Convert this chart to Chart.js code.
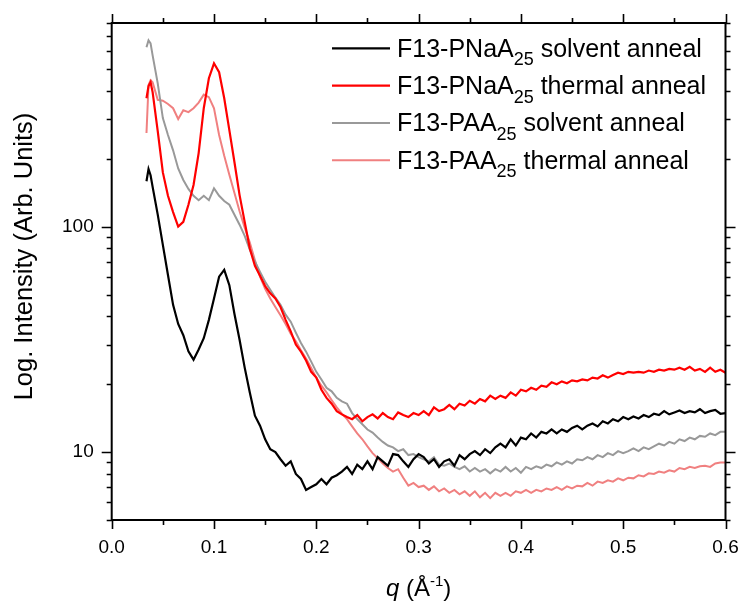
<!DOCTYPE html>
<html>
<head>
<meta charset="utf-8">
<script src="https://cdn.jsdelivr.net/npm/chart.js@4.4.1/dist/chart.umd.min.js"></script>
<style>
  html, body { margin: 0; padding: 0; background: #fff; }
  #wrap { width: 740px; height: 601px; }
</style>
</head>
<body>
<div id="wrap"><canvas id="saxs" width="740" height="601"></canvas></div>
<script>
// scattering vector q (1/Angstrom)
var q = [0.034, 0.036, 0.038, 0.040,
  0.045, 0.050, 0.055, 0.060, 0.065, 0.070, 0.075, 0.080, 0.085, 0.090,
  0.095, 0.100, 0.105, 0.110, 0.115, 0.120, 0.125, 0.130, 0.135, 0.140,
  0.145, 0.150, 0.155, 0.160, 0.165, 0.170, 0.175, 0.180, 0.185, 0.190,
  0.195, 0.200, 0.205, 0.210, 0.215, 0.220, 0.225, 0.230, 0.235, 0.240,
  0.245, 0.250, 0.255, 0.260, 0.265, 0.270, 0.275, 0.280, 0.285, 0.290,
  0.295, 0.300, 0.305, 0.310, 0.315, 0.320, 0.325, 0.330, 0.335, 0.340,
  0.345, 0.350, 0.355, 0.360, 0.365, 0.370, 0.375, 0.380, 0.385, 0.390,
  0.395, 0.400, 0.405, 0.410, 0.415, 0.420, 0.425, 0.430, 0.435, 0.440,
  0.445, 0.450, 0.455, 0.460, 0.465, 0.470, 0.475, 0.480, 0.485, 0.490,
  0.495, 0.500, 0.505, 0.510, 0.515, 0.520, 0.525, 0.530, 0.535, 0.540,
  0.545, 0.550, 0.555, 0.560, 0.565, 0.570, 0.575, 0.580, 0.585, 0.590,
  0.595, 0.600];

var pnaaSolvent = [159, 180, 169, 150,
  113, 83, 61, 45, 37, 33, 28, 25.7, 28.5, 32,
  38.6, 48, 60, 64.3, 55, 41, 31.5, 23.7, 18.4, 14.5,
  13.1, 11.4, 10.3, 10.0, 9.3, 8.7, 9.1, 8.0, 7.6, 6.8,
  7.0, 7.2, 7.6, 7.2, 7.7, 7.9, 8.2, 8.6, 8.0, 8.8,
  8.4, 9.1, 8.4, 9.5, 9.1, 8.7, 9.8, 9.7, 9.1, 8.6,
  9.3, 9.8, 9.5, 8.9, 9.3, 8.6, 9.1, 9.3, 8.7, 9.7,
  9.3, 9.8, 10.1, 9.7, 10.3, 9.9, 10.5, 10.9, 10.5, 11.4,
  10.7, 11.6, 11.4, 12.1, 11.6, 12.3, 12.1, 12.6, 12.1, 12.6,
  12.3, 12.8, 13.1, 12.6, 13.1, 13.4, 13.0, 13.7, 13.4, 14.0,
  13.7, 14.3, 14.0, 14.4, 14.1, 14.6, 14.3, 14.8, 14.6, 15.2,
  14.7, 15.0, 15.3, 14.9, 15.2, 15.0, 15.5, 14.9, 15.2, 15.4,
  14.8, 14.9];

var pnaaThermal = [371, 420, 437, 395,
  265, 174, 137, 116, 100, 105, 125, 153, 212, 335,
  455, 530, 484, 371, 268, 193, 138, 105, 80, 67,
  60.5, 54.5, 50.6, 48, 44, 38.6, 34.3, 30, 27.9, 25.5,
  22.7, 21.4, 18.9, 17.4, 16.4, 15.2, 14.7, 14.3, 14.0, 14.6,
  13.7, 14.3, 14.7, 14.1, 14.9, 14.3, 14.0, 15.0, 14.6, 14.3,
  14.9, 14.6, 15.2, 14.6, 15.8, 15.2, 15.5, 16.2, 15.5, 16.4,
  16.1, 16.9, 16.4, 17.2, 16.8, 17.8, 17.2, 17.8, 17.4, 18.4,
  17.8, 18.9, 18.6, 19.3, 18.9, 19.7, 19.5, 20.4, 20.0, 20.6,
  20.2, 20.8, 20.6, 21.0, 20.8, 21.4, 21.2, 21.9, 21.4, 22.0,
  22.5, 22.2, 22.7, 22.5, 22.7, 22.5, 23.0, 22.7, 23.2, 23.0,
  23.4, 23.2, 23.7, 23.2, 23.9, 23.0, 23.4, 22.7, 23.7, 22.7,
  23.2, 22.5];

var paaSolvent = [624, 670, 650, 575,
  432, 303, 255, 218, 181, 161, 147, 137, 131, 137,
  131, 148, 137, 130, 125, 113, 102, 91, 79, 70,
  63, 57, 52.5, 48.4, 45, 40.7, 37.9, 33.9, 30.5, 27.9,
  25.2, 22.7, 21.0, 19.3, 18.6, 17.4, 16.8, 16.4, 14.9, 14.0,
  13.3, 12.6, 12.2, 11.6, 11.1, 10.7, 10.5, 10.1, 10.3, 9.7,
  9.8, 9.5, 9.3, 9.1, 9.5, 8.8, 8.7, 8.9, 8.6, 8.4,
  8.65, 8.2, 8.5, 8.2, 8.4, 8.05, 8.4, 8.2, 8.6, 8.2,
  8.5, 8.1, 8.6, 8.4, 8.65, 8.5, 8.8, 8.65, 9.0, 8.8,
  9.1, 8.9, 9.3, 9.2, 9.5, 9.3, 9.7, 9.5, 9.9, 9.7,
  10.1, 9.9, 10.1, 10.4, 10.1, 10.5, 10.3, 10.6, 10.9, 10.7,
  11.1, 10.9, 11.4, 11.2, 11.6, 11.4, 11.8, 11.7, 12.1, 11.9,
  12.3, 12.3];

var paaThermal = [260, 425, 446, 437,
  365, 362, 350, 335, 300, 328, 322, 335, 355, 385,
  375, 335, 255, 206, 170, 141, 117, 99, 85, 71,
  60, 53, 48, 44, 40.5, 37, 33.5, 31, 28.3, 26,
  23.6, 21.4, 19.7, 18.4, 17.0, 15.8, 14.8, 14.0, 13.0, 12.1,
  11.4, 10.6, 9.9, 9.4, 8.9, 8.5, 8.2, 8.4, 7.7, 7.1,
  7.3, 7.0, 7.1, 6.8, 7.05, 6.7, 6.9, 6.6, 6.8, 6.5,
  6.7, 6.4, 6.7, 6.3, 6.6, 6.25, 6.6, 6.4, 6.6, 6.4,
  6.7, 6.6, 6.8, 6.6, 6.8, 6.7, 6.9, 6.8, 7.0, 6.8,
  7.05, 6.9, 7.1, 7.05, 7.3, 7.1, 7.4, 7.3, 7.5, 7.4,
  7.65, 7.5, 7.7, 7.65, 7.9, 7.8, 8.05, 8.0, 8.2, 8.1,
  8.3, 8.2, 8.5, 8.4, 8.6, 8.5, 8.65, 8.7, 8.6, 8.9,
  9.0, 9.0];

var seriesName = ['F13-PNaA', 'F13-PNaA', 'F13-PAA', 'F13-PAA'];
var seriesSub = ['25', '25', '25', '25'];
var seriesTail = [' solvent anneal', ' thermal anneal', ' solvent anneal', ' thermal anneal'];
var seriesColor = ['#000000', '#ff0000', '#999999', '#f08080'];
var seriesWidth = [2.2, 2.2, 2, 2];

var xTicks = [0, 0.05, 0.1, 0.15, 0.2, 0.25, 0.3, 0.35, 0.4, 0.45, 0.5, 0.55, 0.6];
var xMajor = [0, 0.1, 0.2, 0.3, 0.4, 0.5, 0.6];
var yTicks = [5, 6, 7, 8, 9, 10, 20, 30, 40, 50, 60, 70, 80, 90, 100, 200, 300, 400, 500, 600, 700, 800];
var yMajor = [10, 100];
var yTitle = 'Log. Intensity (Arb. Units)';

var FONT = '"Liberation Sans", Arial, sans-serif';

function pts(arr) {
  return q.map(function (v, i) { return { x: v, y: arr[i] }; });
}

function isMajorX(v) {
  return xMajor.some(function (m) { return Math.abs(m - v) < 1e-6; });
}

// stop chart.js from reserving room for overflowing tick labels
function noPad(s) {
  s.paddingTop = 0; s.paddingBottom = 0; s.paddingLeft = 0; s.paddingRight = 0;
}

var frameAndLegend = {
  id: 'frameAndLegend',
  afterDraw: function (chart) {
    var ctx = chart.ctx;
    var a = chart.chartArea;
    var xs = chart.scales.x, ys = chart.scales.y;
    ctx.save();
    ctx.strokeStyle = '#000';
    ctx.lineWidth = 2;
    ctx.strokeRect(a.left, a.top, a.right - a.left, a.bottom - a.top);

    ctx.lineWidth = 1.6;
    ctx.beginPath();
    xTicks.forEach(function (v) {
      var px = Math.round(xs.getPixelForValue(v)) + 0.5;
      var len = isMajorX(v) ? 9 : 5;
      ctx.moveTo(px, a.bottom); ctx.lineTo(px, a.bottom + len);
      ctx.moveTo(px, a.top); ctx.lineTo(px, a.top - len);
    });
    yTicks.forEach(function (v) {
      var py = Math.round(ys.getPixelForValue(v)) + 0.5;
      var len = yMajor.indexOf(v) >= 0 ? 10 : 5;
      ctx.moveTo(a.left, py); ctx.lineTo(a.left - len, py);
      ctx.moveTo(a.right, py); ctx.lineTo(a.right + len, py);
    });
    ctx.stroke();

    // legend
    ctx.fillStyle = '#000';
    ctx.textBaseline = 'alphabetic';
    for (var i = 0; i < seriesName.length; i++) {
      var ly = 48.3 + i * 37.3;
      ctx.strokeStyle = seriesColor[i];
      ctx.lineWidth = seriesWidth[i];
      ctx.beginPath();
      ctx.moveTo(332, ly); ctx.lineTo(390, ly);
      ctx.stroke();
      var tx = 397;
      ctx.font = '25px ' + FONT;
      ctx.fillText(seriesName[i], tx, ly + 8.5);
      tx += ctx.measureText(seriesName[i]).width;
      ctx.font = '18px ' + FONT;
      ctx.fillText(seriesSub[i], tx, ly + 17);
      tx += ctx.measureText(seriesSub[i]).width;
      ctx.font = '25px ' + FONT;
      ctx.fillText(seriesTail[i], tx, ly + 8.5);
    }

    // x axis title: q (Å^-1)
    var parts = [
      { t: 'q', f: 'italic 24px ' + FONT, dy: 0 },
      { t: ' (Å', f: '24px ' + FONT, dy: 0 },
      { t: '-1', f: '15px ' + FONT, dy: -10 },
      { t: ')', f: '24px ' + FONT, dy: 0 }
    ];
    var total = 0;
    parts.forEach(function (p) { ctx.font = p.f; p.w = ctx.measureText(p.t).width; total += p.w; });
    var cx = (a.left + a.right) / 2 - total / 2;
    parts.forEach(function (p) {
      ctx.font = p.f;
      ctx.fillText(p.t, cx, 596 + p.dy);
      cx += p.w;
    });

    // y axis title, rotated
    ctx.translate(31.5, 256.5);
    ctx.rotate(-Math.PI / 2);
    ctx.font = '25.5px ' + FONT;
    ctx.textAlign = 'center';
    ctx.fillText(yTitle, 0, 0);
    ctx.restore();
  }
};

var datasets = [pnaaSolvent, pnaaThermal, paaSolvent, paaThermal].map(function (arr, i) {
  return {
    label: seriesName[i] + seriesSub[i] + seriesTail[i],
    data: pts(arr),
    borderColor: seriesColor[i],
    borderWidth: seriesWidth[i],
    pointRadius: 0,
    fill: false,
    tension: 0
  };
});

new Chart(document.getElementById('saxs'), {
  type: 'line',
  data: { datasets: datasets },
  options: {
    responsive: false,
    animation: false,
    devicePixelRatio: 1,
    layout: { padding: { top: 23, right: 14.5, left: 0, bottom: 0 } },
    plugins: { legend: { display: false }, tooltip: { enabled: false } },
    scales: {
      x: {
        type: 'linear',
        min: 0, max: 0.6,
        grid: { display: false, drawTicks: false },
        border: { display: false },
        ticks: {
          stepSize: 0.05,
          autoSkip: false,
          maxRotation: 0,
          padding: 16,
          color: '#000',
          font: { family: FONT, size: 19 },
          callback: function (v) { return isMajorX(v) ? v.toFixed(1) : ''; }
        },
        afterFit: function (s) { s.height = 81; noPad(s); }
      },
      y: {
        type: 'logarithmic',
        min: 5, max: 800,
        grid: { display: false, drawTicks: false },
        border: { display: false },
        ticks: {
          autoSkip: false,
          padding: 18,
          color: '#000',
          font: { family: FONT, size: 19 },
          callback: function (v) { return yMajor.indexOf(v) >= 0 ? String(v) : ''; }
        },
        afterFit: function (s) { s.width = 111.7; noPad(s); }
      }
    }
  },
  plugins: [frameAndLegend]
});
</script>
</body>
</html>
